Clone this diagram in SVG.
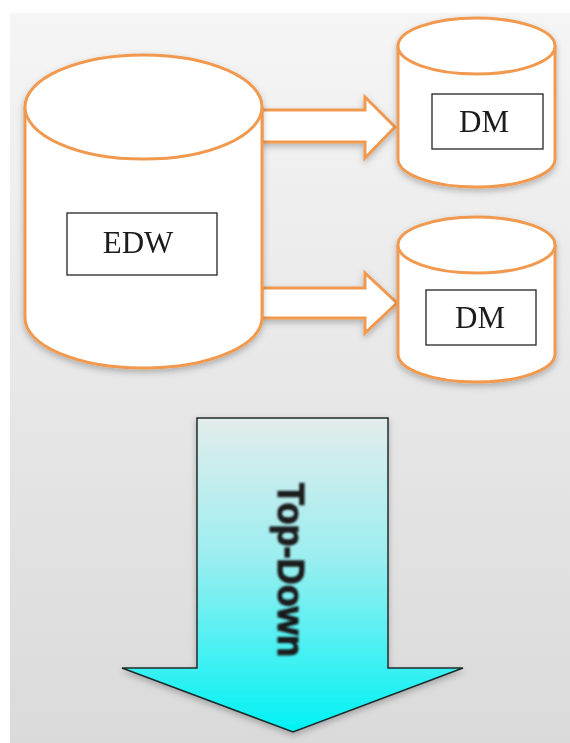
<svg xmlns="http://www.w3.org/2000/svg" width="570" height="743" viewBox="0 0 570 743">
  <defs>
    <linearGradient id="panelGrad" x1="0" y1="0" x2="0" y2="1">
      <stop offset="0" stop-color="#f5f5f5"/>
      <stop offset="1" stop-color="#dadada"/>
    </linearGradient>
    <linearGradient id="downGrad" x1="0" y1="0" x2="0" y2="1">
      <stop offset="0" stop-color="#e4ecec"/>
      <stop offset="0.45" stop-color="#9aeef0"/>
      <stop offset="1" stop-color="#00f2f4"/>
    </linearGradient>
    <filter id="shadow" x="-20%" y="-20%" width="140%" height="140%">
      <feDropShadow dx="0" dy="3" stdDeviation="3" flood-color="#000" flood-opacity="0.25"/>
    </filter>
    <filter id="soft" x="-10%" y="-10%" width="120%" height="120%">
      <feGaussianBlur stdDeviation="0.9"/>
    </filter>
  </defs>
  <style>
    .db { fill: #ffffff; stroke: #f0994f; stroke-width: 3; }
    .flow { fill: #ffffff; stroke: #f0994f; stroke-width: 3; stroke-linejoin: miter; }
    .label { fill: #ffffff; stroke: #222222; stroke-width: 1.3; }
    .name { font-family: "Liberation Serif", "Times New Roman", serif; font-size: 31px; fill: #1a1a1a; text-anchor: middle; }
  </style>

  <!-- backdrop panel -->
  <rect x="0" y="0" width="570" height="743" fill="#ffffff"/>
  <rect x="10" y="13" width="560" height="730" fill="url(#panelGrad)"/>

  <!-- connectors: EDW feeds both marts -->
  <g id="connectors" filter="url(#shadow)">
    <path class="flow" d="M262,110 H365 V97 L395,127 L365,158 V142 H262 Z"/>
    <path class="flow" d="M262,288 H365 V273 L397,303 L365,333 V318 H262 Z"/>
  </g>

  <!-- enterprise data warehouse -->
  <g id="edw" filter="url(#shadow)">
    <path class="db" d="M25,107 V318 A118.5,50 0 0 0 262,318 V107"/>
    <ellipse class="db" cx="143.5" cy="107" rx="118.5" ry="52"/>
    <rect class="label" x="67" y="213" width="150" height="62"/>
    <text class="name" x="138" y="253">EDW</text>
  </g>

  <!-- data mart (upper) -->
  <g id="dm-top" filter="url(#shadow)">
    <path class="db" d="M398,46 V159 A78.5,28 0 0 0 555,159 V46"/>
    <ellipse class="db" cx="476.5" cy="46" rx="78.5" ry="28"/>
    <rect class="label" x="432" y="94" width="111" height="55"/>
    <text class="name" x="484" y="132">DM</text>
  </g>

  <!-- data mart (lower) -->
  <g id="dm-bottom" filter="url(#shadow)">
    <path class="db" d="M398,245 V354 A78.5,28 0 0 0 555,354 V245"/>
    <ellipse class="db" cx="476.5" cy="245" rx="78.5" ry="28"/>
    <rect class="label" x="426" y="290" width="110" height="55"/>
    <text class="name" x="480" y="328">DM</text>
  </g>

  <!-- top-down direction arrow -->
  <g id="top-down" filter="url(#shadow)">
    <path d="M197,418 H388 V668 H463 L293,732 L122,668 H197 Z" fill="url(#downGrad)" stroke="#1f2b2b" stroke-width="1.5"/>
    <text x="0" y="0" transform="translate(278,570) rotate(90)" filter="url(#soft)" font-family="'Liberation Sans', Arial, sans-serif" font-weight="bold" font-size="37" fill="#1a1a1a" stroke="#1a1a1a" stroke-width="1.2" text-anchor="middle" textLength="174" lengthAdjust="spacingAndGlyphs">Top-Down</text>
  </g>
</svg>
